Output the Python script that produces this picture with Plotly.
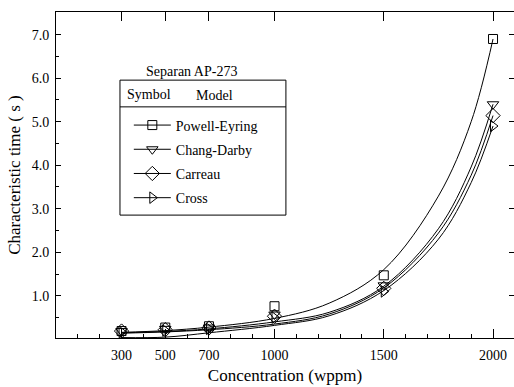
import plotly.graph_objects as go

# ---- data ----
conc = [300, 500, 700, 1000, 1500, 2000]
pe_pts = [0.19, 0.27, 0.30, 0.76, 1.47, 6.90]
cd_pts = [0.19, 0.24, 0.27, 0.57, 1.24, 5.40]
ca_pts = [0.19, 0.22, 0.26, 0.53, 1.17, 5.14]
cr_pts = [0.17, 0.20, 0.24, 0.50, 1.10, 4.90]

curve_x = [300, 500, 700, 1000, 1250, 1500, 1750, 1900, 2000]
pe_fit = [0.16, 0.20, 0.28, 0.48, 0.83, 1.60, 3.29, 5.00, 6.90]
cd_fit = [0.15, 0.18, 0.24, 0.40, 0.62, 1.22, 2.54, 3.96, 5.40]
ca_fit = [0.14, 0.17, 0.22, 0.35, 0.58, 1.18, 2.44, 3.77, 5.14]
cr_fit = [0.04, 0.05, 0.15, 0.32, 0.54, 1.12, 2.30, 3.60, 4.90]

names = ["Powell-Eyring", "Chang-Darby", "Carreau", "Cross"]
symbols = ["square-open", "triangle-down-open", "diamond-open", "triangle-right-open"]
msizes = [9, 10, 11, 10]

x_ticks = [300, 500, 700, 1000, 1500, 2000]
y_ticks = [1, 2, 3, 4, 5, 6, 7]
y_labels = ["1.0", "2.0", "3.0", "4.0", "5.0", "6.0", "7.0"]

FONT = "Liberation Serif"
fig = go.Figure()

pts = [pe_pts, cd_pts, ca_pts, cr_pts]
fits = [pe_fit, cd_fit, ca_fit, cr_fit]
for i in range(4):
    fig.add_trace(go.Scatter(x=curve_x, y=fits[i], mode="lines",
                             line=dict(color="black", width=1, shape="spline", smoothing=1.0),
                             showlegend=False, hoverinfo="skip"))
for i in range(4):
    fig.add_trace(go.Scatter(x=conc, y=pts[i], mode="markers",
                             marker=dict(symbol=symbols[i], size=msizes[i], color="black",
                                         line=dict(color="black", width=1)),
                             showlegend=False, name=names[i]))
# legend-only entries
for i in range(4):
    fig.add_trace(go.Scatter(x=[None], y=[None], mode="lines+markers", name=names[i],
                             legendgroup=names[i],
                             line=dict(color="black", width=1),
                             marker=dict(symbol=symbols[i], size=msizes[i], color="black",
                                         line=dict(color="black", width=1))))

# top/right axis ticks (no labels)
fig.add_trace(go.Scatter(x=[None], y=[None], xaxis="x2", yaxis="y2", showlegend=False))

fig.update_layout(
    width=514, height=387,
    margin=dict(l=56, r=0, t=12, b=49),
    plot_bgcolor="white", paper_bgcolor="white",
    font=dict(family=FONT, size=14, color="black"),
    xaxis=dict(range=[0, 2096], tickvals=x_ticks, ticktext=[str(v) for v in x_ticks],
               ticks="inside", ticklen=9, tickwidth=1, tickcolor="black",
               showline=True, linecolor="black", linewidth=1, showgrid=False, zeroline=False,
               minor=dict(dtick=100, tick0=0, ticks="inside", ticklen=4, tickcolor="black", showgrid=False),
               title=dict(text="Concentration (wppm)", font=dict(size=17, family=FONT), standoff=7),
               tickfont=dict(size=14, family=FONT), ticklabelstandoff=4),
    xaxis2=dict(overlaying="x", matches="x", side="top", range=[0, 2096], tickvals=x_ticks,
                ticks="inside", ticklen=9, tickcolor="black", showticklabels=False,
                showline=True, linecolor="black", linewidth=1, showgrid=False, zeroline=False),
    yaxis=dict(range=[0.03, 7.52], tickvals=y_ticks, ticktext=y_labels,
               ticks="inside", ticklen=5, tickcolor="black",
               showline=True, linecolor="black", linewidth=1, showgrid=False, zeroline=False,
               minor=dict(dtick=0.5, tick0=0, ticks="inside", ticklen=3, tickcolor="black", showgrid=False),
               title=dict(text="Characteristic time ( s )", font=dict(size=17, family=FONT), standoff=6),
               tickfont=dict(size=14, family=FONT), ticklabelstandoff=3),
    yaxis2=dict(overlaying="y", matches="y", side="right", range=[0.03, 7.52], tickvals=y_ticks,
                ticks="inside", ticklen=5, tickcolor="black", showticklabels=False,
                showline=True, linecolor="black", linewidth=1, showgrid=False, zeroline=False),
    legend=dict(x=0.159, y=0.701, xanchor="left", yanchor="top",
                bgcolor="rgba(0,0,0,0)", borderwidth=0, tracegroupgap=3, itemwidth=37,
                traceorder="grouped", font=dict(size=14, family=FONT)),
    showlegend=True,
)

# legend frame, header and title
fig.add_shape(type="rect", xref="paper", yref="paper", x0=0.1397, x1=0.502, y0=0.377, y1=0.791,
              line=dict(color="black", width=1), fillcolor="rgba(0,0,0,0)")
fig.add_shape(type="line", xref="paper", yref="paper", x0=0.1397, x1=0.502, y0=0.709, y1=0.709,
              line=dict(color="black", width=1))
fig.add_annotation(text="Separan AP-273", xref="paper", yref="paper", x=0.295, y=0.819,
                   xanchor="center", yanchor="middle", showarrow=False, font=dict(size=14, family=FONT))
fig.add_annotation(text="Symbol", xref="paper", yref="paper", x=0.203, y=0.748,
                   xanchor="center", yanchor="middle", showarrow=False, font=dict(size=14, family=FONT))
fig.add_annotation(text="Model", xref="paper", yref="paper", x=0.347, y=0.745,
                   xanchor="center", yanchor="middle", showarrow=False, font=dict(size=14, family=FONT))

fig.write_html("out.html", post_script="document.body.style.margin='0';",
               config={"displayModeBar": False})
